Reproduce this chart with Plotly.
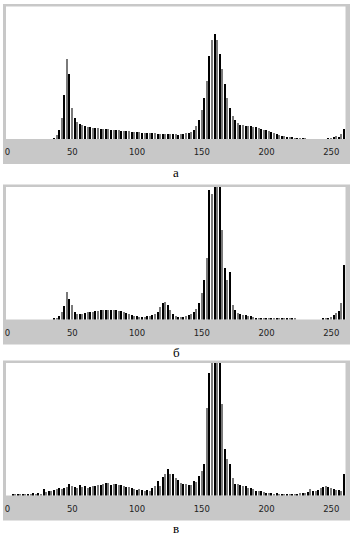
import plotly.graph_objects as go

# gray levels (bins, step 2)
levels = list(range(0, 261, 2))

hist_a = ([0] * 18 +
          [2, 5, 10, 22, 45, 81, 66, 32, 22, 18,
           16, 15, 14, 13, 13, 12, 12, 12, 11, 11,
           11, 11, 10, 10, 10, 10, 9, 9, 9, 9,
           8, 8, 8, 8, 7, 7, 7, 7, 7, 7,
           6, 6, 6, 6, 6, 6, 6, 6, 5, 6,
           6, 7] +
          [7, 8, 10, 14, 20, 30, 42, 59, 84, 100,
           106, 100, 86, 71, 56, 42, 32, 24, 20, 17,
           15, 15, 14, 14, 14, 13, 13, 12, 11, 10,
           10, 9, 8, 7, 6, 5, 4, 4, 3, 3,
           3, 2, 2, 1, 1, 1, 0, 0, 0, 0,
           0, 0, 0, 0, 1, 2, 3, 4, 3, 6,
           11])

hist_b = ([0] * 18 +
          [1, 2, 4, 8, 14, 28, 21, 15, 8, 6,
           6, 6, 7, 8, 8, 8, 9, 9, 10, 10,
           10, 10, 10, 10, 10, 9, 9, 8, 7, 6,
           5, 4, 4, 3, 3, 3, 4, 4, 5, 6,
           8, 13, 17, 18, 15, 10, 6, 4, 3, 3,
           3, 4] +
          [5, 6, 8, 11, 17, 27, 40, 62, 130, 126,
           160, 160, 160, 90, 52, 40, 48, 15, 10, 7,
           6, 5, 5, 4, 4, 3, 2, 2, 2, 2,
           1, 1, 1, 1, 1, 1, 1, 1, 1, 1,
           1, 1, 0, 0, 0, 0, 0, 0, 0, 0,
           0, 0, 1, 1, 2, 3, 5, 7, 9, 17,
           55])

hist_c = ([0, 0, 1, 1, 1, 1, 2, 1, 2, 2, 3, 2, 3, 2, 7, 4, 5, 5] +
          [6, 7, 8, 7, 8, 9, 12, 10, 9, 8,
           11, 9, 10, 8, 9, 10, 10, 11, 11, 12,
           13, 13, 11, 12, 12, 11, 11, 10, 9, 9,
           8, 7, 6, 7, 6, 5, 6, 5, 8, 10,
           15, 10, 19, 22, 27, 22, 22, 18, 16, 13,
           12, 12] +
          [11, 11, 15, 14, 20, 25, 32, 88, 123, 160,
           160, 160, 160, 92, 47, 37, 32, 18, 12, 12,
           11, 10, 10, 8, 8, 7, 5, 5, 5, 4,
           3, 3, 3, 2, 3, 2, 2, 2, 2, 2,
           2, 2, 2, 3, 3, 3, 4, 7, 5, 5,
           6, 8, 9, 10, 9, 8, 7, 6, 6, 5,
           22])

panel_labels = ["а", "б", "в"]
tick_values = [0, 50, 100, 150, 200, 250]

W, H = 352, 539
panel_tops = [4, 184.5, 360.5]

def px(x):
    return x / W

def py(y):
    return 1 - y / H

fig = go.Figure()
shapes = []
annotations = []
colors = ["#000000" if i % 2 == 0 else "#7a7a7a" for i in range(len(levels))]

for k, (hist, top, lab) in enumerate(zip([hist_a, hist_b, hist_c], panel_tops, panel_labels)):
    n = "" if k == 0 else str(k + 1)
    fig.add_trace(go.Bar(x=levels, y=hist, width=1.1,
                         marker=dict(color=colors, line=dict(width=0)),
                         xaxis="x" + n, yaxis="y" + n, showlegend=False))
    inner_top = top + 2.5
    base = top + 135
    fig.update_layout(**{
        "xaxis" + n: dict(domain=[px(6), px(345.5)], range=[-1.2, 261.0],
                          anchor="y" + n, showgrid=False, zeroline=False, showline=False,
                          tickvals=tick_values, ticks="outside", ticklen=5,
                          tickcolor="rgba(0,0,0,0)",
                          tickfont=dict(family="DejaVu Sans", size=8.5, color="#222")),
        "yaxis" + n: dict(domain=[py(base), py(inner_top)], range=[0, 132.5],
                          anchor="x" + n, showgrid=False, zeroline=False, showline=False,
                          showticklabels=False, ticks=""),
    })
    shapes.append(dict(type="rect", xref="paper", yref="paper", layer="below",
                       x0=px(3), x1=px(350), y0=py(top + 160), y1=py(top),
                       fillcolor="#c8c8c8", line=dict(width=0)))
    shapes.append(dict(type="rect", xref="paper", yref="paper", layer="below",
                       x0=px(6), x1=px(345.5), y0=py(base), y1=py(inner_top),
                       fillcolor="#ffffff", line=dict(width=0)))
    annotations.append(dict(text=lab, xref="paper", yref="paper",
                            x=px(176), y=py(top + 168), showarrow=False,
                            xanchor="center", yanchor="middle",
                            font=dict(family="Liberation Serif", size=13, color="#000")))

fig.update_layout(width=W, height=H, margin=dict(l=0, r=0, t=0, b=0),
                  paper_bgcolor="#ffffff", plot_bgcolor="rgba(0,0,0,0)",
                  shapes=shapes, annotations=annotations, bargap=0)

fig.write_html("out.html")
